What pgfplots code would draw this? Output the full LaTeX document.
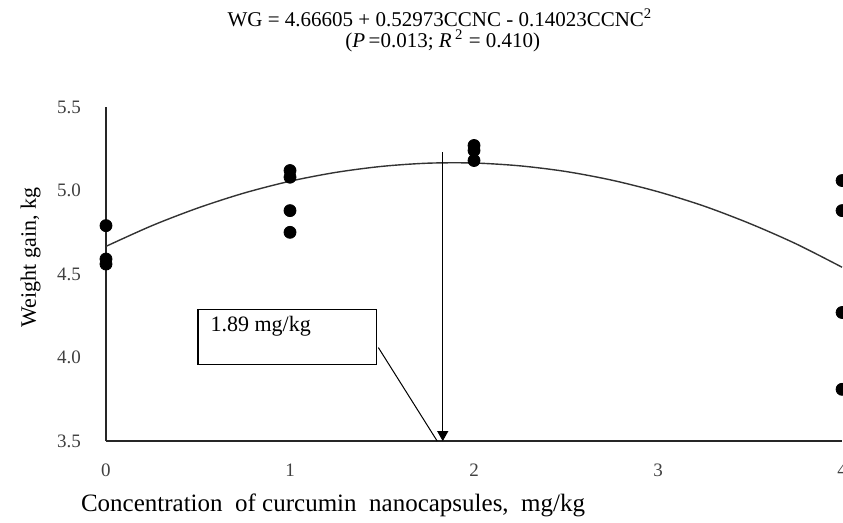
\documentclass[border=0pt]{standalone}
\usepackage{fontspec}
\setmainfont{Liberation Serif}
\usepackage{pgfplots}
\pgfplotsset{compat=1.18}
\usetikzlibrary{arrows.meta}

\begin{document}
\begin{tikzpicture}
\begin{axis}[
  x=92pt, y=83.5pt,
  xmin=0, xmax=4, ymin=3.5, ymax=5.5,
  axis x line=bottom, axis y line=left,
  axis line style={-, line width=1pt, black!85},
  xtick={0,1,2,3,4}, ytick={3.5,4,4.5,5,5.5},
  major tick length=0pt,
  /pgf/number format/assume math mode=true,
  yticklabel={\pgfmathprintnumber[fixed,fixed zerofill,precision=1]{\tick}},
  tick label style={font=\fontsize{9.5}{10}\selectfont, text=black!75},
  xticklabel style={yshift=-8pt},
  yticklabel style={xshift=-9pt},
  clip=false,
]
% fitted curve (values read along the trendline)
\addplot[black!80, line width=0.7pt, smooth] coordinates {
  (0,4.666) (0.25,4.790) (0.5,4.896) (0.75,4.985) (1,5.056)
  (1.25,5.109) (1.5,5.145) (1.75,5.164) (2,5.165) (2.25,5.148)
  (2.5,5.114) (2.75,5.062) (3,4.993) (3.25,4.907) (3.5,4.802)
  (3.75,4.681) (4,4.541)
};
% observations
\addplot[only marks, mark=*, mark size=3pt, black] coordinates {
  (0,4.79) (0,4.59) (0,4.56)
  (1,5.12) (1,5.08) (1,4.88) (1,4.75)
  (2,5.27) (2,5.24) (2,5.18)
  (4,5.06) (4,4.88) (4,4.27) (4,3.81)
};
% optimum arrow and callout
\draw[line width=0.5pt, -{Triangle[width=5.5pt,length=5pt]}] (axis cs:1.83,5.23) -- (axis cs:1.83,3.5);
\draw[line width=0.5pt] (axis cs:1.48,4.06) -- (axis cs:1.80,3.5);
\draw[line width=0.6pt, fill=white] (axis cs:0.50,3.96) rectangle (axis cs:1.47,4.29);
\node[anchor=west, font=\fontsize{11}{12}\selectfont] at (axis cs:0.53,4.19) {1.89 mg/kg};
% title
\node[font=\fontsize{10.5}{12}\selectfont] at (axis cs:1.815,6.033)
  {WG = 4.66605 + 0.52973CCNC - 0.14023CCNC\textsuperscript{2}};
\node[font=\fontsize{10.5}{12}\selectfont] at (axis cs:1.83,5.895)
  {(\textit{P}\,=0.013; \textit{R}\,\textsuperscript{2} = 0.410)};
% axis labels
\node[rotate=90, font=\fontsize{11}{12}\selectfont] at (axis cs:-0.41,4.60) {Weight gain, kg};
\node[font=\fontsize{12.5}{14}\selectfont] at (axis cs:1.234,3.117)
  {Concentration\ \ of curcumin\ \ nanocapsules,\ \ mg/kg};
\coordinate (bl) at (axis cs:-0.576,3.015);
\coordinate (tr) at (axis cs:4.005,6.141);
\end{axis}
\pgfresetboundingbox
\useasboundingbox (bl) rectangle (tr);
\end{tikzpicture}
\end{document}
